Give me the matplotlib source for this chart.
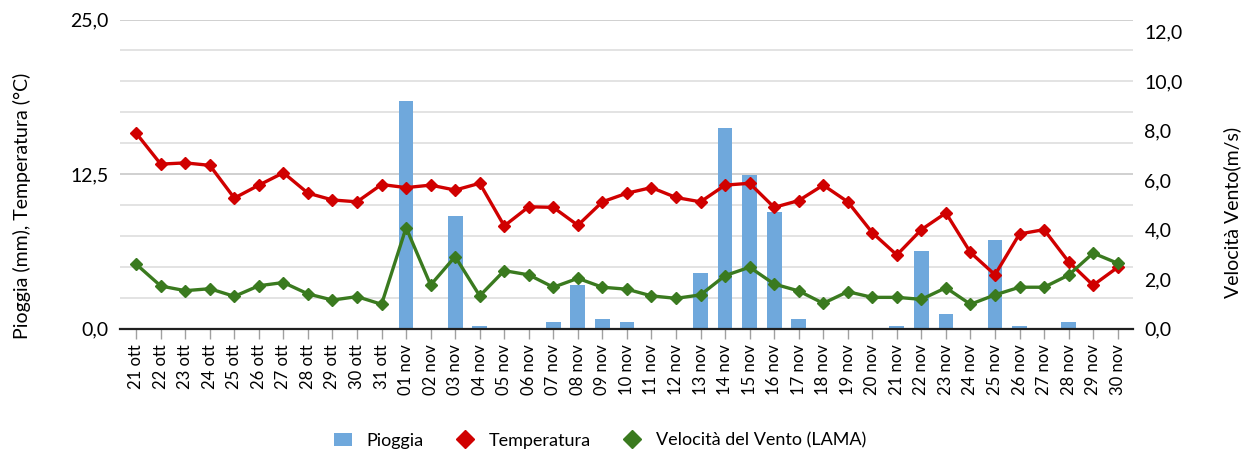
import numpy as np
import matplotlib as mpl
mpl.use("Agg")
import matplotlib.pyplot as plt
from matplotlib.lines import Line2D
from matplotlib.patches import Patch
from matplotlib.ticker import FuncFormatter, MultipleLocator

mpl.rcParams['font.family'] = ['Lato', 'DejaVu Sans']

# ---------------- data ----------------
dates = (["%d ott" % d for d in range(21, 32)] +
         ["%02d nov" % d for d in range(1, 31)])

pioggia = [0, 0, 0, 0, 0, 0, 0, 0, 0, 0, 0,
           18.4, 0, 9.1, 0.2, 0, 0, 0.55, 3.5, 0.8, 0.55,
           0, 0, 4.5, 16.2, 12.4, 9.4, 0.8, 0, 0, 0,
           0.2, 6.3, 1.15, 0, 7.2, 0.2, 0, 0.5, 0, 0]

temperatura = [15.8, 13.3, 13.4, 13.2, 10.55, 11.6, 12.6, 10.95, 10.4, 10.25, 11.65,
               11.4, 11.6, 11.2, 11.75, 8.3, 9.85, 9.8, 8.35, 10.25, 10.95,
               11.4, 10.6, 10.25, 11.6, 11.75, 9.8, 10.35, 11.6, 10.25, 7.75,
               5.95, 8.0, 9.35, 6.15, 4.35, 7.65, 8.0, 5.4, 3.5, 4.95]

vento = [2.6, 1.72, 1.53, 1.61, 1.3, 1.73, 1.86, 1.4, 1.15, 1.29, 0.98,
         4.08, 1.76, 2.91, 1.32, 2.34, 2.17, 1.67, 2.03, 1.67, 1.59,
         1.32, 1.22, 1.36, 2.14, 2.48, 1.8, 1.52, 1.02, 1.49, 1.26,
         1.26, 1.18, 1.65, 0.98, 1.36, 1.67, 1.67, 2.16, 3.05, 2.64]

C_RAIN = "#6FA8DC"
C_TEMP = "#D00000"
C_WIND = "#3A7A1F"

x = np.arange(len(dates))

W, H = 1250, 459
fig = plt.figure(figsize=(W / 100, H / 100), dpi=100)
ax = fig.add_axes([0.096, 0.2843, 0.8107, 0.6732])
ax2 = ax.twinx()

# gridlines every 2.5 on the left scale
for g in np.arange(2.5, 25.01, 2.5):
    major = abs(g % 12.5) < 1e-9
    ax.axhline(g, color="#C8C8C8" if major else "#DEDEDE", linewidth=1.2, zorder=0)

ax.bar(x, pioggia, width=0.6, color=C_RAIN, zorder=2)
ax.plot(x, temperatura, color=C_TEMP, linewidth=2.4, marker="D",
        markersize=6.5, zorder=3)
ax2.plot(x, vento, color=C_WIND, linewidth=2.4, marker="D",
         markersize=6.5, zorder=3)

ax.set_xlim(-0.66, len(dates) - 1 + 0.64)
ax.set_ylim(0, 25)
ax2.set_ylim(0, 12.5)

comma = FuncFormatter(lambda v, p: ("%.1f" % v).replace(".", ","))
ax.yaxis.set_major_locator(MultipleLocator(12.5))
ax.yaxis.set_major_formatter(comma)
ax2.yaxis.set_major_locator(MultipleLocator(2))
ax2.yaxis.set_major_formatter(comma)

ax.set_xticks(x)
ax.set_xticklabels(dates, rotation=90, fontsize=12)
ax.tick_params(axis="x", direction="out", length=7, width=1, color="#A0A0A0", pad=4)
ax.tick_params(axis="y", length=0, labelsize=14, pad=8)
ax2.tick_params(axis="y", length=0, labelsize=14, pad=8)

for a in (ax, ax2):
    for s in ("top", "left", "right"):
        a.spines[s].set_visible(False)
ax2.spines["bottom"].set_visible(False)
ax.spines["bottom"].set_linewidth(1.6)
ax.spines["bottom"].set_color("#202020")

# axis titles placed like the original (centred a bit below the plot middle)
fig.text(22 / W, 1 - 206 / H, "Pioggia (mm), Temperatura (°C)", rotation=90,
         ha="center", va="center", fontsize=14)
fig.text(1232 / W, 1 - 212 / H, "Velocità Vento(m/s)", rotation=90,
         ha="center", va="center", fontsize=14)

handles = [
    Patch(facecolor=C_RAIN, edgecolor="none"),
    Line2D([], [], color=C_TEMP, marker="D", linestyle="none", markersize=9),
    Line2D([], [], color=C_WIND, marker="D", linestyle="none", markersize=9),
]
fig.legend(handles, ["Pioggia", "Temperatura", "Velocità del Vento (LAMA)"],
           loc="center", bbox_to_anchor=(0.48, 0.04), ncol=3, frameon=False,
           fontsize=13, handlelength=1.0, handletextpad=0.8, columnspacing=1.8)

fig.savefig("out.png", dpi=100)
